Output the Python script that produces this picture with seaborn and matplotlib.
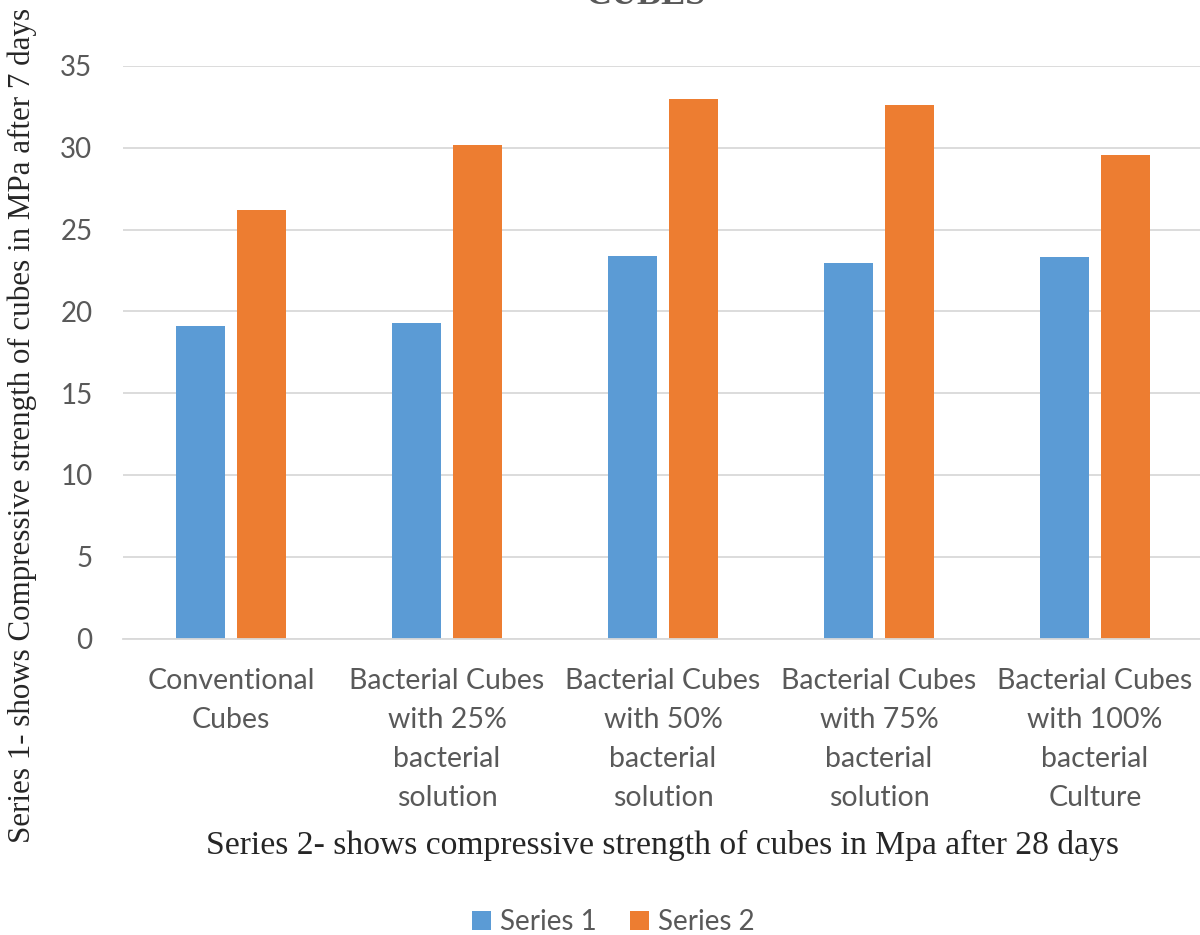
import matplotlib
matplotlib.use("Agg")
import matplotlib.pyplot as plt
import seaborn as sns
import pandas as pd
from matplotlib.patches import Patch

categories = [
    "Conventional\nCubes",
    "Bacterial Cubes\nwith 25%\nbacterial\nsolution",
    "Bacterial Cubes\nwith 50%\nbacterial\nsolution",
    "Bacterial Cubes\nwith 75%\nbacterial\nsolution",
    "Bacterial Cubes\nwith 100%\nbacterial\nCulture",
]
series_names = ["Series 1", "Series 2"]
series1 = [19.1, 19.3, 23.4, 22.95, 23.35]
series2 = [26.2, 30.15, 33.0, 32.6, 29.55]
y_ticks = [0, 5, 10, 15, 20, 25, 30, 35]

title_text = "CUBES"
y_label = "Series 1- shows Compressive strength of cubes in MPa after 7 days"
x_label = "Series 2- shows compressive strength of cubes in Mpa after 28 days"

colors = ["#5B9BD5", "#ED7D31"]
text_gray = "#595959"
grid_gray = "#D9D9D9"

df = pd.DataFrame({
    "category": categories * 2,
    "series": [series_names[0]] * len(categories) + [series_names[1]] * len(categories),
    "value": series1 + series2,
})

sns.set_theme(style="white")
plt.rcParams["font.family"] = ["Lato", "DejaVu Sans"]

W, H = 1200, 935
fig = plt.figure(figsize=(W / 100, H / 100), dpi=100)
ax = fig.add_axes([123 / W, 1 - 638.5 / H, 1080 / W, (638.5 - 66) / H])

sns.barplot(
    data=df, x="category", y="value", hue="series", order=categories,
    hue_order=series_names, palette=colors, saturation=1,
    width=0.568, gap=0.21, linewidth=0, legend=False, ax=ax,
)

ax.set_ylim(0, 35)
ax.set_yticks(y_ticks)
ax.set_xlim(-0.5, len(categories) - 0.5)
ax.yaxis.grid(True, color=grid_gray, linewidth=1.3)
ax.set_axisbelow(True)
for side in ["top", "right", "left"]:
    ax.spines[side].set_visible(False)
ax.spines["bottom"].set_color(grid_gray)
ax.spines["bottom"].set_linewidth(1.3)
ax.tick_params(axis="x", length=0, colors=text_gray, labelsize=20.5, pad=21.5)
ax.tick_params(axis="y", length=0, colors=text_gray, labelsize=20, pad=22)
for lbl in ax.get_xticklabels():
    lbl.set_linespacing(1.62)
ax.set_xlabel("")
ax.set_ylabel("")

serif = ["Liberation Serif", "DejaVu Serif"]
fig.text(662 / W, 1 - 845 / H, x_label, family=serif, fontsize=24.2,
         color="#262626", ha="center", va="center")
fig.text(22 / W, 1 - 425 / H, y_label, family=serif, fontsize=22.3,
         color="#262626", ha="center", va="center", rotation=90)
# chart title sits at the top edge, only its lower rim shows
fig.text(645 / W, 1 - 3.5 / H, title_text, family=serif, fontsize=26,
         fontweight="bold", color=text_gray, ha="center", va="baseline")

handles = [Patch(facecolor=c, edgecolor="none") for c in colors]
fig.legend(handles, series_names, loc="center", bbox_to_anchor=(613 / W, 1 - 922 / H),
           ncol=2, frameon=False, fontsize=20, labelcolor=text_gray,
           handlelength=0.7, handleheight=0.7, handletextpad=0.3, columnspacing=1.2)

fig.savefig("out.png", dpi=100)
